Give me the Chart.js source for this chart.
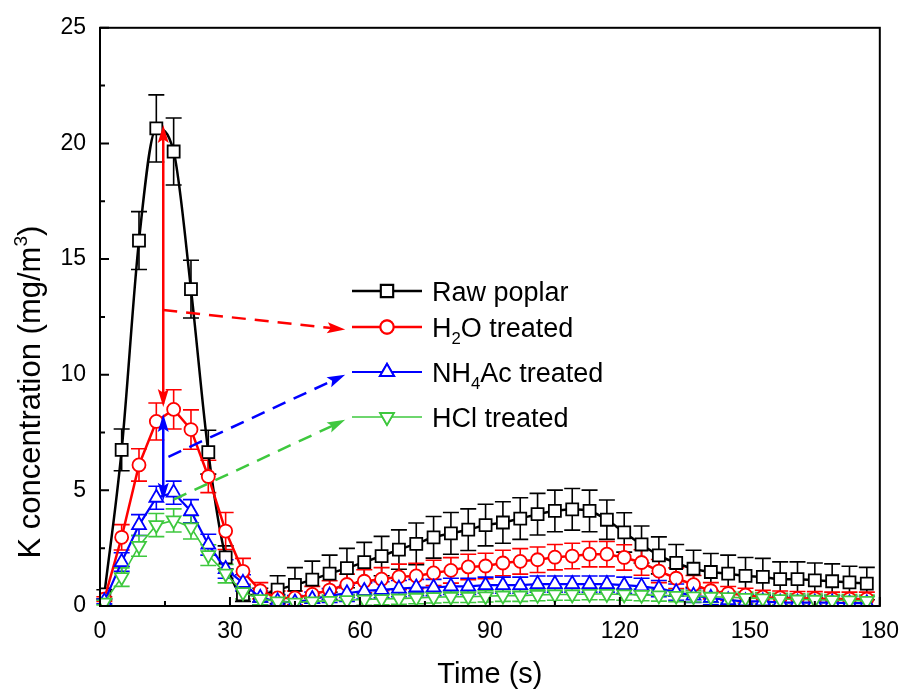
<html>
<head>
<script src="https://cdn.jsdelivr.net/npm/chart.js@4.4.0/dist/chart.umd.min.js"></script>
<style>
  html, body { margin: 0; padding: 0; background: #fff; }
  #kChart { display: block; }
</style>
</head>
<body>
<canvas id="kChart" width="911" height="692"></canvas>
<script>
const FONT = '"Liberation Sans", Arial, Helvetica, sans-serif';

// time (s)
const times = [1, 5, 9, 13, 17, 21, 25, 29, 33, 37, 41, 45, 49, 53, 57, 61, 65, 69, 73, 77, 81, 85, 89,
  93, 97, 101, 105, 109, 113, 117, 121, 125, 129, 133, 137, 141, 145, 149, 153, 157, 161, 165, 169, 173, 177];

// K concentration (mg/m3) and error bars
const rawPoplar = [0.5, 6.75, 15.8, 20.65, 19.65, 13.7, 6.65, 2.1, 0.5, 0.47, 0.71, 0.91, 1.14, 1.4, 1.64, 1.9, 2.16, 2.44, 2.69, 2.97, 3.14, 3.3, 3.5,
  3.61, 3.78, 3.97, 4.11, 4.18, 4.11, 3.73, 3.18, 2.66, 2.19, 1.86, 1.61, 1.47, 1.4, 1.3, 1.26, 1.16, 1.16, 1.11, 1.07, 1.02, 0.97];
const rawErr = [0.2, 0.9, 1.25, 1.45, 1.45, 1.25, 0.95, 0.5, 0.3, 0.3, 0.6, 0.75, 0.8, 0.8, 0.85, 0.85, 0.85, 0.85, 0.9, 0.9, 0.9, 0.9, 0.9,
  0.9, 0.9, 0.9, 0.9, 0.9, 0.9, 0.85, 0.85, 0.8, 0.8, 0.8, 0.8, 0.8, 0.8, 0.8, 0.8, 0.75, 0.75, 0.75, 0.75, 0.7, 0.7];

const h2oTreated = [0.3, 2.97, 6.1, 7.98, 8.5, 7.63, 5.6, 3.24, 1.5, 0.66, 0.35, 0.35, 0.5, 0.69, 0.93, 1.07, 1.16, 1.26, 1.3, 1.43, 1.54, 1.69, 1.73,
  1.86, 1.93, 2.0, 2.11, 2.16, 2.24, 2.24, 2.1, 1.88, 1.51, 1.2, 0.92, 0.66, 0.54, 0.47, 0.38, 0.35, 0.33, 0.32, 0.3, 0.3, 0.3];
const h2oErr = [0.1, 0.55, 0.7, 0.8, 0.85, 0.85, 0.7, 0.8, 0.56, 0.35, 0.3, 0.3, 0.35, 0.4, 0.45, 0.5, 0.5, 0.55, 0.55, 0.55, 0.55, 0.55, 0.55,
  0.55, 0.55, 0.55, 0.55, 0.55, 0.55, 0.55, 0.55, 0.55, 0.5, 0.45, 0.4, 0.35, 0.3, 0.3, 0.3, 0.3, 0.3, 0.3, 0.3, 0.3, 0.3];

const nh4acTreated = [0.2, 1.9, 3.5, 4.68, 4.9, 4.1, 2.65, 1.6, 1.0, 0.35, 0.2, 0.15, 0.3, 0.45, 0.55, 0.65, 0.7, 0.75, 0.8, 0.8, 0.85, 0.85, 0.9,
  0.9, 0.9, 0.95, 0.95, 0.95, 0.95, 0.95, 0.9, 0.85, 0.75, 0.6, 0.45, 0.35, 0.25, 0.2, 0.2, 0.15, 0.15, 0.15, 0.15, 0.12, 0.12];
const nh4acErr = [0.1, 0.4, 0.45, 0.5, 0.5, 0.5, 0.45, 0.4, 0.35, 0.3, 0.3, 0.3, 0.3, 0.3, 0.35, 0.35, 0.35, 0.35, 0.35, 0.35, 0.35, 0.35, 0.35,
  0.35, 0.35, 0.35, 0.35, 0.35, 0.35, 0.35, 0.35, 0.35, 0.35, 0.35, 0.3, 0.3, 0.3, 0.3, 0.3, 0.3, 0.3, 0.3, 0.3, 0.3, 0.3];

const hclTreated = [0.15, 1.25, 2.6, 3.5, 3.7, 3.4, 2.2, 1.4, 0.6, 0.3, 0.2, 0.15, 0.2, 0.22, 0.25, 0.28, 0.3, 0.32, 0.35, 0.38, 0.4, 0.4, 0.42,
  0.45, 0.45, 0.48, 0.5, 0.5, 0.52, 0.52, 0.5, 0.48, 0.46, 0.44, 0.42, 0.4, 0.38, 0.35, 0.33, 0.3, 0.28, 0.27, 0.25, 0.24, 0.22];
const hclErr = [0.1, 0.4, 0.45, 0.5, 0.5, 0.5, 0.45, 0.4, 0.3, 0.25, 0.25, 0.25, 0.25, 0.25, 0.25, 0.25, 0.25, 0.25, 0.25, 0.25, 0.25, 0.25, 0.25,
  0.25, 0.25, 0.25, 0.25, 0.25, 0.25, 0.25, 0.25, 0.25, 0.25, 0.25, 0.25, 0.25, 0.25, 0.25, 0.25, 0.25, 0.25, 0.25, 0.25, 0.25, 0.25];

const xTicks = [0, 30, 60, 90, 120, 150, 180];
const yTicks = [0, 5, 10, 15, 20, 25];
const xMinor = [15, 45, 75, 105, 135, 165];
const yMinor = [2.5, 7.5, 12.5, 17.5, 22.5];

// annotation arrows in data units
const arrows = [
  { from: [14.6, 20.8], to: [14.6, 8.6], both: true, dashed: false, color: '#ff0000' },
  { from: [14.6, 8.3], to: [14.6, 4.55], both: true, dashed: false, color: '#0000ff' },
  { from: [14.6, 12.8], to: [56.6, 11.95], both: false, dashed: true, color: '#ff0000' },
  { from: [15.8, 6.45], to: [56.6, 10.0], both: false, dashed: true, color: '#0000ff' },
  { from: [17.0, 4.6], to: [56.6, 8.05], both: false, dashed: true, color: '#3ec83e' }
];

// legend text parts: [text, 0 normal / -1 subscript]
const series = [
  { name: [['Raw poplar', 0]], y: rawPoplar, err: rawErr, color: '#000000', style: 'rect', radius: 8.5, rot: 0, width: 2.5, smooth: true },
  { name: [['H', 0], ['2', -1], ['O treated', 0]], y: h2oTreated, err: h2oErr, color: '#ff0000', style: 'circle', radius: 6.5, rot: 0, width: 2.5, smooth: false },
  { name: [['NH', 0], ['4', -1], ['Ac treated', 0]], y: nh4acTreated, err: nh4acErr, color: '#0000ff', style: 'triangle', radius: 8, rot: 0, width: 2.2, smooth: false },
  { name: [['HCl treated', 0]], y: hclTreated, err: hclErr, color: '#3ec83e', style: 'triangle', radius: 8, rot: 180, width: 1.6, smooth: false }
];

function richWidth(ctx, parts, size) {
  let w = 0;
  parts.forEach(p => {
    ctx.font = (p[1] ? size * 0.62 : size) + 'px ' + FONT;
    w += ctx.measureText(p[0]).width;
  });
  return w;
}

function drawRich(ctx, parts, x, y, size) {
  let cx = x;
  ctx.textBaseline = 'alphabetic';
  ctx.textAlign = 'left';
  parts.forEach(p => {
    const s = p[1] ? size * 0.62 : size;
    ctx.font = s + 'px ' + FONT;
    const dy = p[1] < 0 ? size * 0.25 : (p[1] > 0 ? -size * 0.42 : 0);
    ctx.fillText(p[0], cx, y + dy);
    cx += ctx.measureText(p[0]).width;
  });
}

function drawHead(ctx, x, y, ang, color) {
  const len = 18, half = 5.5;
  ctx.save();
  ctx.translate(x, y);
  ctx.rotate(ang);
  ctx.beginPath();
  ctx.moveTo(0, 0);
  ctx.lineTo(-len, -half);
  ctx.lineTo(-len * 0.8, 0);
  ctx.lineTo(-len, half);
  ctx.closePath();
  ctx.fillStyle = color;
  ctx.fill();
  ctx.restore();
}

const framePlugin = {
  id: 'frame',
  beforeDatasetsDraw(chart) {
    const ctx = chart.ctx, xs = chart.scales.x, ys = chart.scales.y;
    ctx.save();
    // error bars
    series.forEach(s => {
      ctx.strokeStyle = s.color;
      ctx.lineWidth = 1.6;
      s.y.forEach((v, i) => {
        const px = xs.getPixelForValue(times[i]);
        const top = ys.getPixelForValue(v + s.err[i]);
        const bot = ys.getPixelForValue(Math.max(0, v - s.err[i]));
        ctx.beginPath();
        ctx.moveTo(px, top); ctx.lineTo(px, bot);
        ctx.moveTo(px - 8, top); ctx.lineTo(px + 8, top);
        ctx.moveTo(px - 8, bot); ctx.lineTo(px + 8, bot);
        ctx.stroke();
      });
    });
    ctx.restore();
  },
  afterDatasetsDraw(chart) {
    const ctx = chart.ctx, xs = chart.scales.x, ys = chart.scales.y;
    const a = chart.chartArea;
    ctx.save();
    // arrows
    arrows.forEach(ar => {
      const x1 = xs.getPixelForValue(ar.from[0]), y1 = ys.getPixelForValue(ar.from[1]);
      const x2 = xs.getPixelForValue(ar.to[0]), y2 = ys.getPixelForValue(ar.to[1]);
      const ang = Math.atan2(y2 - y1, x2 - x1);
      ctx.strokeStyle = ar.color;
      ctx.lineWidth = 2.5;
      ctx.setLineDash(ar.dashed ? [14, 9] : []);
      ctx.beginPath();
      ctx.moveTo(x1 + (ar.both ? Math.cos(ang) * 14 : 0), y1 + (ar.both ? Math.sin(ang) * 14 : 0));
      ctx.lineTo(x2 - Math.cos(ang) * 14, y2 - Math.sin(ang) * 14);
      ctx.stroke();
      ctx.setLineDash([]);
      drawHead(ctx, x2, y2, ang, ar.color);
      if (ar.both) drawHead(ctx, x1, y1, ang + Math.PI, ar.color);
    });

    // frame and inward ticks
    ctx.strokeStyle = '#000';
    ctx.lineWidth = 2;
    ctx.strokeRect(a.left, a.top, a.right - a.left, a.bottom - a.top);
    ctx.beginPath();
    xTicks.forEach(v => { const p = xs.getPixelForValue(v); ctx.moveTo(p, a.bottom); ctx.lineTo(p, a.bottom - 9); });
    xMinor.forEach(v => { const p = xs.getPixelForValue(v); ctx.moveTo(p, a.bottom); ctx.lineTo(p, a.bottom - 5); });
    yTicks.forEach(v => { const p = ys.getPixelForValue(v); ctx.moveTo(a.left, p); ctx.lineTo(a.left + 9, p); });
    yMinor.forEach(v => { const p = ys.getPixelForValue(v); ctx.moveTo(a.left, p); ctx.lineTo(a.left + 5, p); });
    ctx.stroke();
    ctx.restore();
  },
  afterDraw(chart) {
    const ctx = chart.ctx;
    ctx.save();
    ctx.fillStyle = '#000';
    // legend
    const rowY = [291, 327, 372, 417];
    series.forEach((s, i) => {
      const y = rowY[i];
      ctx.strokeStyle = s.color;
      ctx.lineWidth = s.width;
      ctx.beginPath(); ctx.moveTo(352, y); ctx.lineTo(422, y); ctx.stroke();
      ctx.fillStyle = '#fff';
      Chart.helpers.drawPoint(ctx, { pointStyle: s.style, rotation: s.rot, radius: s.radius, borderWidth: 1.8 }, 387, y);
      ctx.fill();
      ctx.lineWidth = 1.8;
      ctx.stroke();
      ctx.fillStyle = '#000';
      drawRich(ctx, s.name, 432, y + 10, 27);
    });

    // axis titles
    const xt = [['Time (s)', 0]];
    const xw = richWidth(ctx, xt, 29);
    drawRich(ctx, xt, (chart.chartArea.left + chart.chartArea.right) / 2 - xw / 2, 683, 29);

    const yt = [['K concentration (mg/m', 0], ['3', 1], [')', 0]];
    const yw = richWidth(ctx, yt, 31);
    ctx.translate(40, 392);
    ctx.rotate(-Math.PI / 2);
    drawRich(ctx, yt, -yw / 2, 0, 31);
    ctx.restore();
  }
};

const ctx = document.getElementById('kChart').getContext('2d');

// lower order is drawn on top: green above, black at the bottom
const datasets = series.map((s, i) => ({
  label: s.name.map(p => p[0]).join(''),
  data: times.map((t, j) => ({ x: t, y: s.y[j] })),
  showLine: true,
  borderColor: s.color,
  borderWidth: s.width,
  cubicInterpolationMode: s.smooth ? 'monotone' : 'default',
  tension: 0,
  pointStyle: s.style,
  pointRotation: s.rot,
  pointRadius: s.radius,
  pointBorderWidth: 1.8,
  pointBorderColor: s.color,
  pointBackgroundColor: '#ffffff',
  order: 4 - i
}));

const kChart = new Chart(ctx, {
  type: 'scatter',
  data: { datasets: datasets },
  options: {
    responsive: false,
    animation: false,
    devicePixelRatio: 1,
    layout: { padding: { top: 22, right: 23, left: 0, bottom: 0 } },
    plugins: { legend: { display: false }, tooltip: { enabled: false } },
    scales: {
      x: {
        type: 'linear', min: 0, max: 180,
        afterFit: s => { s.height = 86; },
        afterBuildTicks: s => { s.ticks = xTicks.map(v => ({ value: v })); },
        grid: { display: false, drawTicks: false },
        border: { display: false },
        ticks: { font: { family: FONT, size: 23 }, color: '#000', padding: 12, maxRotation: 0 }
      },
      y: {
        type: 'linear', min: 0, max: 25,
        afterFit: s => { s.width = 100; },
        afterBuildTicks: s => { s.ticks = yTicks.map(v => ({ value: v })); },
        grid: { display: false, drawTicks: false },
        border: { display: false },
        ticks: { font: { family: FONT, size: 23 }, color: '#000', padding: 14 }
      }
    }
  },
  plugins: [framePlugin]
});
</script>
</body>
</html>
